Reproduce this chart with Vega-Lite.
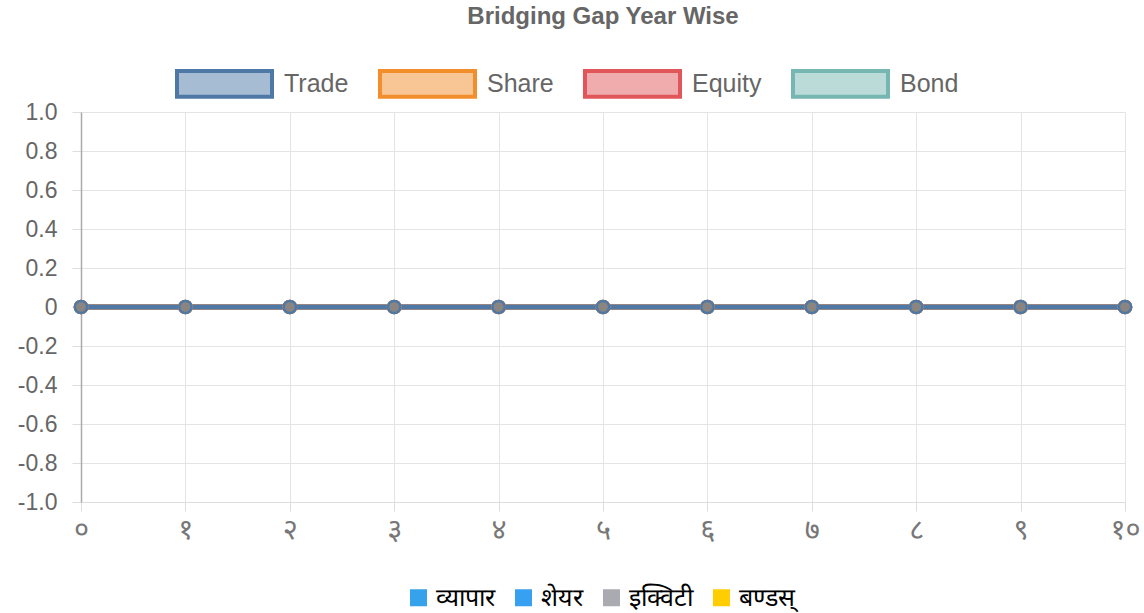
{
  "$schema": "https://vega.github.io/schema/vega-lite/v6.json",
  "width": 1044,
  "height": 390,
  "autosize": {"type": "none"},
  "padding": {"left": 81, "top": 112, "right": 19, "bottom": 111},
  "background": "white",
  "title": {
    "text": "Bridging Gap Year Wise",
    "font": "Liberation Sans",
    "fontSize": 24,
    "fontWeight": "bold",
    "color": "#666666",
    "anchor": "middle",
    "offset": 5
  },
  "config": {
    "view": {"stroke": null},
    "font": "Liberation Sans"
  },
  "datasets": {
    "years": [
      {"x": "०", "Trade": 0, "Share": 0, "Equity": 0, "Bond": 0},
      {"x": "१", "Trade": 0, "Share": 0, "Equity": 0, "Bond": 0},
      {"x": "२", "Trade": 0, "Share": 0, "Equity": 0, "Bond": 0},
      {"x": "३", "Trade": 0, "Share": 0, "Equity": 0, "Bond": 0},
      {"x": "४", "Trade": 0, "Share": 0, "Equity": 0, "Bond": 0},
      {"x": "५", "Trade": 0, "Share": 0, "Equity": 0, "Bond": 0},
      {"x": "६", "Trade": 0, "Share": 0, "Equity": 0, "Bond": 0},
      {"x": "७", "Trade": 0, "Share": 0, "Equity": 0, "Bond": 0},
      {"x": "८", "Trade": 0, "Share": 0, "Equity": 0, "Bond": 0},
      {"x": "९", "Trade": 0, "Share": 0, "Equity": 0, "Bond": 0},
      {"x": "१०", "Trade": 0, "Share": 0, "Equity": 0, "Bond": 0}
    ],
    "np": [
      {"label": "व्यापार", "x": "०", "v": 0},
      {"label": "शेयर", "x": "०", "v": 0},
      {"label": "इक्विटी", "x": "०", "v": 0},
      {"label": "बण्डस्", "x": "०", "v": 0}
    ]
  },
  "layer": [
    {
      "data": {"name": "years"},
      "transform": [{"fold": ["Bond", "Equity", "Share", "Trade"], "as": ["series", "value"]}],
      "mark": {"type": "line", "strokeWidth": 5},
      "encoding": {
        "x": {
          "field": "x", "type": "ordinal", "sort": null,
          "scale": {"type": "point", "padding": 0},
          "axis": {
            "title": null, "labelAngle": 0, "labelFontSize": 29, "labelColor": "#777777",
            "labelPadding": 4, "tickSize": 9, "tickColor": "#dddddd", "domainColor": "#dddddd",
            "grid": true, "gridColor": "#e4e4e4", "labelFont": "Noto Sans"
          }
        },
        "y": {
          "field": "value", "type": "quantitative",
          "scale": {"domain": [-1, 1], "nice": false, "zero": false},
          "axis": {
            "title": null, "values": [-1, -0.8, -0.6, -0.4, -0.2, 0, 0.2, 0.4, 0.6, 0.8, 1],
            "tickCount": 11,
            "labelExpr": "datum.value == 0 ? '0' : replace(format(datum.value, '.1f'), '−', '-')",
            "labelOverlap": false,
            "labelFontSize": 23, "labelColor": "#666666", "labelPadding": 15,
            "tickSize": 9, "tickColor": "#dddddd", "domainColor": "#aaaaaa", "domainWidth": 1.5,
            "gridColor": "#e4e4e4"
          }
        },
        "color": {
          "field": "series", "type": "nominal",
          "scale": {"domain": ["Trade", "Share", "Equity", "Bond"], "range": ["#4e79a7", "#f28e2b", "#e15759", "#76b7b2"]},
          "legend": {
            "title": null, "orient": "none", "direction": "horizontal",
            "legendX": 94, "legendY": -78,
            "symbolType": "M-1,-0.27H1V0.27H-1Z", "symbolSize": 9025, "symbolStrokeWidth": 4,
            "labelFontSize": 25, "labelColor": "#666666", "labelOffset": 10, "columnPadding": 23,
            "labelFont": "Liberation Sans",
            "encode": {"symbols": {"update": {"fill": {"scale": "color", "field": "value"}, "fillOpacity": {"value": 0.5}}}}
          }
        }
      }
    },
    {
      "data": {"name": "years"},
      "transform": [{"fold": ["Bond", "Equity", "Share", "Trade"], "as": ["series", "value"]}],
      "mark": {"type": "point", "filled": false, "fill": "#8a8580", "fillOpacity": 1, "size": 150, "strokeWidth": 2.5, "opacity": 1},
      "encoding": {
        "x": {"field": "x", "type": "ordinal", "sort": null},
        "y": {"field": "value", "type": "quantitative"},
        "stroke": {
          "field": "series", "type": "nominal",
          "scale": {"domain": ["Trade", "Share", "Equity", "Bond"], "range": ["#4e79a7", "#f28e2b", "#e15759", "#76b7b2"]},
          "legend": null
        },
        "order": {"field": "series", "sort": "ascending"}
      }
    },
    {
      "data": {"name": "np"},
      "mark": {"type": "square", "opacity": 0},
      "encoding": {
        "x": {"field": "x", "type": "ordinal", "sort": null},
        "y": {"field": "v", "type": "quantitative"},
        "fill": {
          "field": "label", "type": "nominal",
          "scale": {"domain": ["व्यापार", "शेयर", "इक्विटी", "बण्डस्"], "range": ["#36a2eb", "#37a0f0", "#a9abb0", "#ffcd00"]},
          "legend": {
            "title": null, "orient": "none", "direction": "horizontal",
            "legendX": 325, "legendY": 473,
            "symbolType": "square", "symbolSize": 289, "symbolStrokeWidth": 0, "symbolOpacity": 1,
            "labelFontSize": 25, "labelColor": "#000000", "labelOffset": 5, "columnPadding": 16
          }
        }
      }
    }
  ]
}
